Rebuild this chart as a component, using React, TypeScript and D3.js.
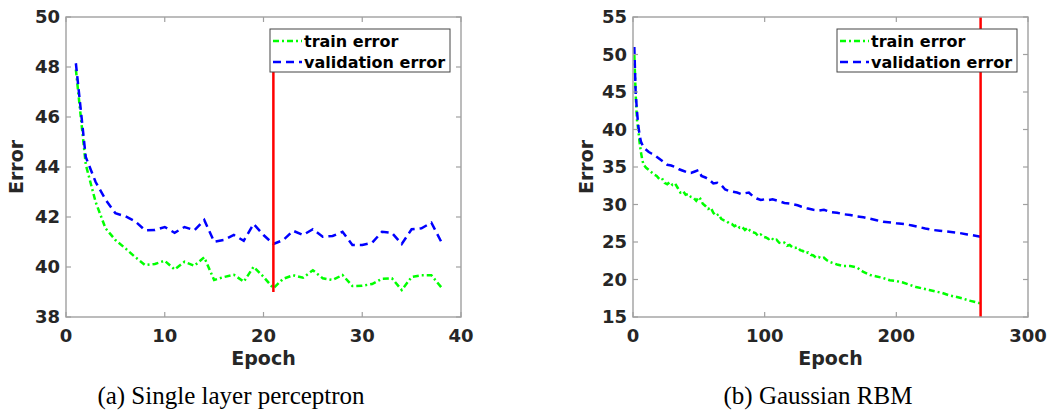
import React from "react";
import * as d3 from "d3";

// ---------- data: (a) single layer perceptron ----------
const slpEpochs = [1,2,3,4,5,6,7,8,9,10,11,12,13,14,15,16,17,18,19,20,21,22,23,24,25,26,27,28,29,30,31,32,33,34,35,36,37,38];
const slpTrain = [47.9,44.1,42.6,41.55,41.08,40.75,40.4,40.08,40.12,40.25,39.9,40.21,40.05,40.39,39.48,39.6,39.69,39.41,40.01,39.61,39.15,39.53,39.67,39.57,39.87,39.55,39.48,39.68,39.24,39.25,39.32,39.53,39.55,39.08,39.6,39.67,39.67,39.19];
const slpVal = [48.15,44.4,43.4,42.7,42.15,42.03,41.83,41.47,41.48,41.6,41.37,41.6,41.47,41.88,41.01,41.08,41.28,41.05,41.72,41.28,40.92,41.08,41.45,41.28,41.51,41.21,41.24,41.41,40.88,40.88,40.97,41.41,41.37,40.92,41.51,41.55,41.77,41.01];
const slpBest = 21;
const slpBestRange = [39, 48.2];
const slpXTicks = [0,10,20,30,40];
const slpYTicks = [38,40,42,44,46,48,50];

// ---------- data: (b) Gaussian RBM ----------
const rbmTrainEpochs = [1,2,3,4,5,6,7,8,10,12,14,16,18,20,22,24,26,28,30,32,34,36,38,40,42,44,46,48,50,51,53,55,57,59,61,63,65,67,69,71,73,75,77,79,81,83,85,87,89,91,93,95,97,99,101,103,105,107,109,111,113,115,117,119,121,123,125,127,129,131,133,135,137,139,141,143,145,147,150,155,160,165,170,175,180,185,190,195,200,205,210,215,220,225,230,235,240,245,250,255,260,264];
const rbmTrain = [50.0,44.8,41.3,40.0,38.3,37.0,36.0,35.3,34.9,34.6,34.3,34.0,33.8,33.4,33.5,32.9,32.7,33.0,32.6,32.8,32.2,31.6,31.8,31.3,31.4,31.0,30.9,30.5,31.0,30.8,30.1,29.8,29.4,29.6,28.9,28.5,28.7,28.1,27.9,27.8,27.5,27.4,27.1,27.3,26.9,27.0,26.6,26.9,26.5,26.3,26.2,25.8,26.0,25.7,25.6,25.4,25.6,25.2,25.3,24.9,24.8,24.9,24.5,24.6,24.3,24.2,24.3,23.9,23.8,23.5,23.6,23.3,23.2,22.9,23.0,22.8,22.9,22.6,22.3,22.0,21.8,21.8,21.6,21.0,20.6,20.4,20.2,19.9,19.8,19.6,19.3,19.0,18.8,18.6,18.4,18.2,17.9,17.7,17.5,17.2,17.0,16.8];
const rbmValEpochs = [1,2,3,4,5,6,8,10,12,14,17,20,23,26,29,32,35,38,41,44,47,50,52,55,58,61,64,67,70,73,76,79,82,85,88,91,94,97,100,103,106,110,115,120,125,128,132,137,141,145,150,155,160,165,170,175,180,185,190,196,200,206,212,217,222,228,233,238,243,248,254,258,261,264];
const rbmVal = [51.0,45.0,42.5,40.5,39.3,38.4,37.6,37.3,37.0,36.8,36.5,36.1,35.7,35.3,35.2,35.0,34.7,34.5,34.3,34.2,34.4,34.6,33.8,33.6,33.3,32.8,32.9,32.6,32.0,31.8,31.7,31.6,31.4,31.5,31.6,31.1,30.8,30.6,30.7,30.6,30.7,30.5,30.2,30.1,29.9,29.7,29.5,29.3,29.2,29.3,29.0,28.9,28.7,28.6,28.4,28.3,28.1,27.9,27.7,27.6,27.5,27.4,27.2,27.0,26.8,26.6,26.5,26.4,26.3,26.2,26.0,25.9,25.8,25.7];
const rbmBest = 264;
const rbmBestRange = [15, 55];
const rbmXTicks = [0,100,200,300];
const rbmYTicks = [15,20,25,30,35,40,45,50,55];

const legendLabels = ["train error", "validation error"];
const captions = ["(a) Single layer perceptron", "(b) Gaussian RBM"];

const TXT = "#262626";
const AX = "#a0a0a0";
const SANS = "'DejaVu Sans', sans-serif";

type PanelProps = {
  left: number; right: number; top: number; bottom: number;
  xDomain: [number, number]; yDomain: [number, number];
  xTicks: number[]; yTicks: number[];
  trainX: number[]; trainY: number[]; valX: number[]; valY: number[];
  best: number; bestRange: number[];
  legendX: number; caption: string; captionX: number; errorX: number;
};

function Panel(p: PanelProps) {
  const x = d3.scaleLinear().domain(p.xDomain).range([p.left, p.right]);
  const y = d3.scaleLinear().domain(p.yDomain).range([p.bottom, p.top]);
  const line = d3.line<[number, number]>().x(d => x(d[0])).y(d => y(d[1]));
  const trainPts = p.trainX.map((e, i) => [e, p.trainY[i]] as [number, number]);
  const valPts = p.valX.map((e, i) => [e, p.valY[i]] as [number, number]);
  const tl = 5;
  const lw = 180, lh = 43, ly = 29;
  return (
    <g>
      <defs>
        <clipPath id={"clip" + p.left}>
          <rect x={p.left} y={p.top} width={p.right - p.left} height={p.bottom - p.top} />
        </clipPath>
      </defs>
      <g clipPath={`url(#clip${p.left})`}>
        <path d={line(trainPts) || ""} fill="none" stroke="#00ff00" strokeWidth={2.5} strokeDasharray="6,3,2,3" />
        <path d={line(valPts) || ""} fill="none" stroke="#0000ff" strokeWidth={2.5} strokeDasharray="8,5" />
        <line x1={x(p.best)} x2={x(p.best)} y1={y(p.bestRange[0])} y2={y(p.bestRange[1])} stroke="#ff0000" strokeWidth={2.5} />
      </g>
      {/* frame */}
      <rect x={p.left} y={p.top} width={p.right - p.left} height={p.bottom - p.top} fill="none" stroke={AX} strokeWidth={1.4} />
      {p.xTicks.map(t => (
        <g key={"x" + t}>
          <line x1={x(t)} x2={x(t)} y1={p.bottom} y2={p.bottom - tl} stroke={AX} strokeWidth={1.2} />
          <line x1={x(t)} x2={x(t)} y1={p.top} y2={p.top + tl} stroke={AX} strokeWidth={1.2} />
          <text x={x(t)} y={p.bottom + 25} textAnchor="middle" fontFamily={SANS} fontWeight="bold" fontSize={18} fill={TXT}>{t}</text>
        </g>
      ))}
      {p.yTicks.map(t => (
        <g key={"y" + t}>
          <line x1={p.left} x2={p.left + tl} y1={y(t)} y2={y(t)} stroke={AX} strokeWidth={1.2} />
          <line x1={p.right} x2={p.right - tl} y1={y(t)} y2={y(t)} stroke={AX} strokeWidth={1.2} />
          <text x={p.left - 6} y={y(t)} dy="0.36em" textAnchor="end" fontFamily={SANS} fontWeight="bold" fontSize={18} fill={TXT}>{t}</text>
        </g>
      ))}
      <text x={(p.left + p.right) / 2} y={365} textAnchor="middle" fontFamily={SANS} fontWeight="bold" fontSize={19} fill={TXT}>Epoch</text>
      <text transform={`translate(${p.errorX},${(p.top + p.bottom) / 2}) rotate(-90)`} textAnchor="middle" fontFamily={SANS} fontWeight="bold" fontSize={19} fill={TXT}>Error</text>
      {/* legend */}
      <rect x={p.legendX} y={ly} width={lw} height={lh} fill="#fff" stroke="#444" strokeWidth={1} />
      <line x1={p.legendX + 3} x2={p.legendX + 32} y1={ly + 12} y2={ly + 12} stroke="#00ff00" strokeWidth={2.5} strokeDasharray="6,3,2,3" />
      <line x1={p.legendX + 3} x2={p.legendX + 32} y1={ly + 33} y2={ly + 33} stroke="#0000ff" strokeWidth={2.5} strokeDasharray="8,5" />
      {legendLabels.map((s, i) => (
        <text key={s} x={p.legendX + 34} y={ly + 12 + i * 21} dy="0.36em" fontFamily={SANS} fontWeight="bold" fontSize={16} fill="#000">{s}</text>
      ))}
      <text x={p.captionX} y={404} textAnchor="middle" fontFamily="'Liberation Serif', serif" fontSize={25} fill="#000">{p.caption}</text>
    </g>
  );
}

export default function App() {
  return (
    <svg width={1051} height={419} style={{ position: "absolute", left: 0, top: 0, background: "#fff" }}>
      <rect width={1051} height={419} fill="#fff" />
      <Panel left={66} right={461} top={17} bottom={317} xDomain={[0, 40]} yDomain={[38, 50]}
        xTicks={slpXTicks} yTicks={slpYTicks}
        trainX={slpEpochs} trainY={slpTrain} valX={slpEpochs} valY={slpVal}
        best={slpBest} bestRange={slpBestRange} legendX={270} caption={captions[0]} captionX={231} errorX={23} />
      <Panel left={633} right={1028} top={17} bottom={317} xDomain={[0, 300]} yDomain={[15, 55]}
        xTicks={rbmXTicks} yTicks={rbmYTicks}
        trainX={rbmTrainEpochs} trainY={rbmTrain} valX={rbmValEpochs} valY={rbmVal}
        best={rbmBest} bestRange={rbmBestRange} legendX={837} caption={captions[1]} captionX={818} errorX={593} />
    </svg>
  );
}
